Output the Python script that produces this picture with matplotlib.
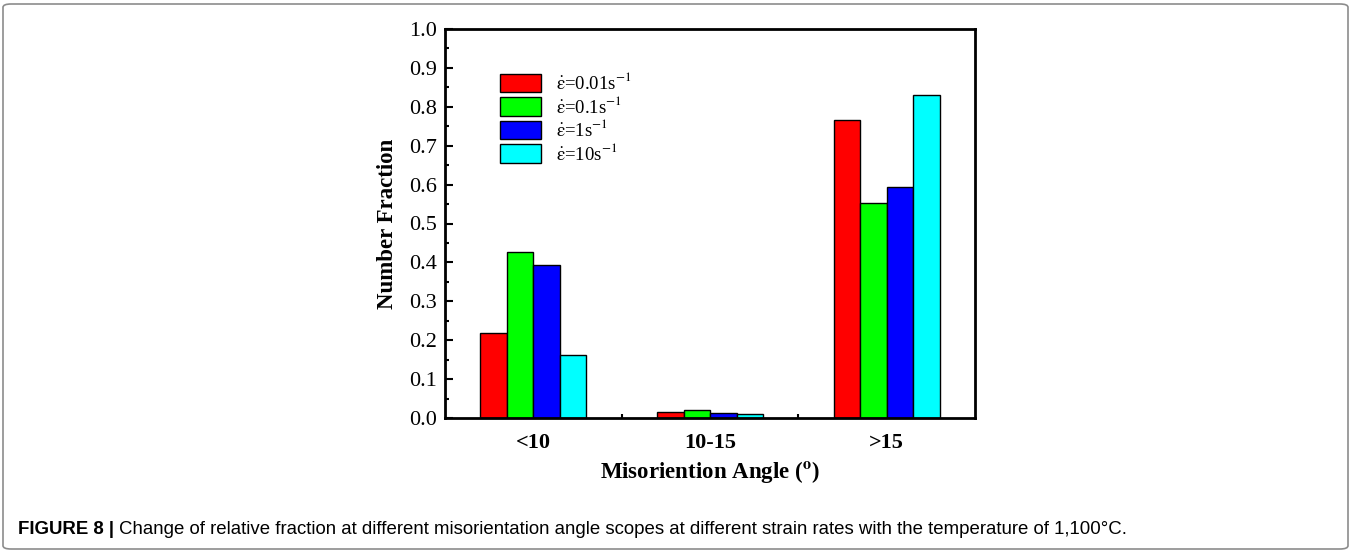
import matplotlib
matplotlib.use("Agg")
import matplotlib.pyplot as plt
import numpy as np
from matplotlib.patches import FancyBboxPatch

plt.rcParams['font.family'] = 'Liberation Serif'
plt.rcParams['mathtext.fontset'] = 'stix'

# data
categories = ['<10', '10-15', '>15']
rates = [r'$\dot{\mathrm{\varepsilon}}$=0.01s$^{-1}$', r'$\dot{\mathrm{\varepsilon}}$=0.1s$^{-1}$',
         r'$\dot{\mathrm{\varepsilon}}$=1s$^{-1}$', r'$\dot{\mathrm{\varepsilon}}$=10s$^{-1}$']
rate_001 = [0.219, 0.015, 0.766]
rate_01 = [0.427, 0.021, 0.553]
rate_1 = [0.393, 0.014, 0.594]
rate_10 = [0.162, 0.010, 0.830]
colors = ['#ff0000', '#00ff00', '#0000ff', '#00ffff']

series = [rate_001, rate_01, rate_1, rate_10]

fig = plt.figure(figsize=(13.52, 5.52), dpi=100)
W, H = 1352, 552
ax = fig.add_axes([445 / W, 1 - 418 / H, 530 / W, 389 / H])

x = np.arange(len(categories))
w = 0.15
for i, vals in enumerate(series):
    ax.bar(x + (i - 1.5) * w, vals, w, color=colors[i], edgecolor='black',
           linewidth=1, label=rates[i])

ax.set_xlim(-0.5, 2.5)
ax.set_ylim(0, 1.0)
ax.set_yticks(np.arange(0, 1.01, 0.1))
ax.set_yticklabels(['%.1f' % v for v in np.arange(0, 1.01, 0.1)], fontsize=16)
ax.set_yticks(np.arange(0.05, 1.0, 0.1), minor=True)
ax.set_xticks(x)
ax.set_xticklabels(categories, fontsize=16, fontweight='bold')
ax.set_xticks([0.5, 1.5], minor=True)
ax.tick_params(axis='x', which='major', length=0, pad=11)
ax.tick_params(axis='x', which='minor', direction='in', length=3, width=1.5)
ax.tick_params(axis='y', which='major', direction='in', length=6, width=1.5, pad=6)
ax.tick_params(axis='y', which='minor', direction='in', length=3, width=1.5)
for s in ax.spines.values():
    s.set_linewidth(2)

ax.set_ylabel('Number Fraction', fontsize=16.5, fontweight='bold', labelpad=8)
ax.set_xlabel(r'Misoriention Angle ($\mathbf{^o}$)', fontsize=16.5, fontweight='bold', labelpad=4)

ax.legend(loc='upper left', bbox_to_anchor=(0.09, 0.908), frameon=False,
          fontsize=13.5, handlelength=2.2, handleheight=1.15, labelspacing=0.13,
          handletextpad=0.8, borderaxespad=0)

# outer frame
frame = FancyBboxPatch((3 / W, 3 / H), 1345 / W, 545 / H,
                       boxstyle='round,pad=0,rounding_size=0.006',
                       transform=fig.transFigure, fill=False,
                       edgecolor='#8c8c8c', linewidth=1.2)
fig.patches.append(frame)

cap_font = 'Liberation Sans'
t1 = fig.text(18 / W, 1 - 529 / H, 'FIGURE 8 |', fontsize=13.4, fontweight='bold',
              family=cap_font, va='center', ha='left')
fig.canvas.draw()
bb = t1.get_window_extent()
fig.text((bb.x1 + 5) / W, 1 - 529 / H,
         'Change of relative fraction at different misorientation angle scopes at different '
         'strain rates with the temperature of 1,100\u00b0C.',
         fontsize=13.4, family=cap_font, va='center', ha='left')

fig.savefig('out.png', dpi=100)
